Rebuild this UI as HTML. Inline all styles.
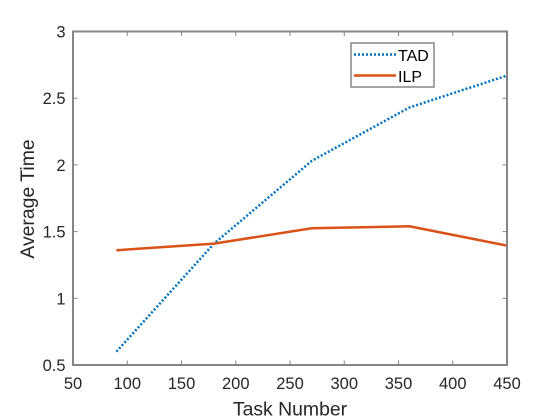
<!DOCTYPE html>
<html>
<head>
<meta charset="utf-8">
<title>Average Time vs Task Number</title>
<style>
html,body{margin:0;padding:0;background:#fff;}
svg{display:block;}
text{font-family:"Liberation Sans",Arial,sans-serif;}
</style>
</head>
<body>
<svg id="chart" width="560" height="420" viewBox="0 0 560 420" xmlns="http://www.w3.org/2000/svg"></svg>
<script>
const taskNumbers = [90, 180, 270, 360, 450];
const tadValues = [0.6, 1.41, 2.03, 2.43, 2.67];
const ilpValues = [1.36, 1.41, 1.525, 1.54, 1.395];
const xTickLabels = [50, 100, 150, 200, 250, 300, 350, 400, 450];
const yTickLabels = [0.5, 1, 1.5, 2, 2.5, 3];
const seriesNames = ['TAD', 'ILP'];
const axisTitles = ['Task Number', 'Average Time'];

const NS = 'http://www.w3.org/2000/svg';
const svg = document.getElementById('chart');
const L = 73, R = 507, T = 31.5, B = 365;
const X0 = 50, X1 = 450, Y0 = 0.5, Y1 = 3;
const AXIS = '#858585', INK = '#262626';
const BLUE = '#0072BD', RED = '#D95319';

function sx(v) { return L + (v - X0) / (X1 - X0) * (R - L); }
function sy(v) { return B - (v - Y0) / (Y1 - Y0) * (B - T); }
function mk(tag, attrs, parent) {
  const el = document.createElementNS(NS, tag);
  for (const k in attrs) el.setAttribute(k, attrs[k]);
  (parent || svg).appendChild(el);
  return el;
}

const bg = mk('rect', {x: L, y: T, width: R - L, height: B - T, fill: '#fff'});



const xTicks = mk('g', {});


xTickLabels.forEach(function (t) {
  const x = sx(t);
  mk('line', {x1: x, x2: x, y1: B, y2: B - 4.5, stroke: AXIS, 'stroke-width': 1}, xTicks);
  mk('line', {x1: x, x2: x, y1: T, y2: T + 4.5, stroke: AXIS, 'stroke-width': 1}, xTicks);
  const lab = mk('text', {x: x, y: B + 24, 'text-anchor': 'middle', 'font-size': 16.5, fill: INK}, xTicks);
  lab.textContent = t;
  
  
});

const yTicks = mk('g', {});


yTickLabels.forEach(function (t) {
  const y = sy(t);
  mk('line', {x1: L, x2: L + 4.5, y1: y, y2: y, stroke: AXIS, 'stroke-width': 1}, yTicks);
  mk('line', {x1: R, x2: R - 4.5, y1: y, y2: y, stroke: AXIS, 'stroke-width': 1}, yTicks);
  const lab = mk('text', {x: L - 7.5, y: y + 6, 'text-anchor': 'end', 'font-size': 16.5, fill: INK}, yTicks);
  lab.textContent = t;
  
  
});

function polyline(values, color, width, dash, name) {
  const pts = values.map(function (v, i) { return sx(taskNumbers[i]) + ',' + sy(v); }).join(' ');
  const attrs = {points: pts, fill: 'none', stroke: color, 'stroke-width': width, 'stroke-linejoin': 'round'};
  if (dash) attrs['stroke-dasharray'] = dash;
  const el = mk('polyline', attrs);
  
  
  return el;
}
polyline(tadValues, BLUE, 2.5, '2 2', 'tad-line');
polyline(ilpValues, RED, 2.5, null, 'ilp-line');

const frame = mk('rect', {x: L, y: T, width: R - L, height: B - T, fill: 'none', stroke: AXIS, 'stroke-width': 2});



const xTitle = mk('text', {x: 290, y: 415.5, 'text-anchor': 'middle', 'font-size': 19.4, fill: INK});
xTitle.textContent = axisTitles[0];



const yTitle = mk('text', {x: 0, y: 0, transform: 'translate(34 199) rotate(-90)', 'text-anchor': 'middle', 'font-size': 19.4, fill: INK});
yTitle.textContent = axisTitles[1];



const legend = mk('g', {});


mk('rect', {x: 351, y: 43, width: 83, height: 44, fill: '#fff', stroke: AXIS, 'stroke-width': 1.5}, legend);

const tadEntry = mk('g', {}, legend);


mk('line', {x1: 354, x2: 396, y1: 54.5, y2: 54.5, stroke: BLUE, 'stroke-width': 2.5, 'stroke-dasharray': '2 2'}, tadEntry);
const tadLabel = mk('text', {x: 398, y: 61, 'font-size': 16, fill: '#000'}, tadEntry);
tadLabel.textContent = seriesNames[0];

const ilpEntry = mk('g', {}, legend);


mk('line', {x1: 354, x2: 396, y1: 75.5, y2: 75.5, stroke: RED, 'stroke-width': 2.5}, ilpEntry);
const ilpLabel = mk('text', {x: 398, y: 82, 'font-size': 16, fill: '#000'}, ilpEntry);
ilpLabel.textContent = seriesNames[1];
</script>
</body>
</html>
